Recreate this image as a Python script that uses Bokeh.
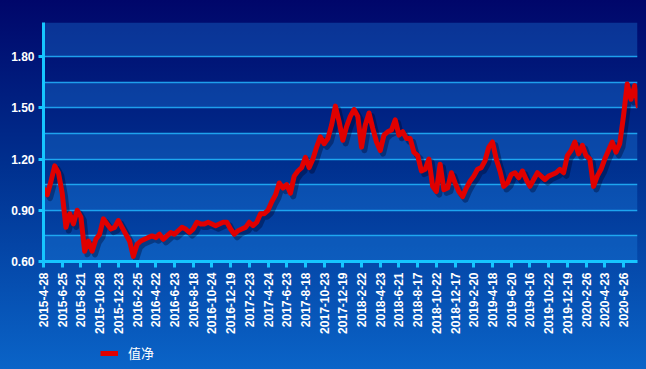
import numpy as np
from bokeh.plotting import figure
from bokeh.layouts import column
from bokeh.models import FixedTicker, Legend, LegendItem, Range1d, BoxAnnotation
from bokeh.embed import file_html
from bokeh.resources import INLINE

# tick labels of the category axis (one every 40 trading days)
tick_dates = ["2015-4-28", "2015-6-25", "2015-8-21", "2015-10-28", "2015-12-23",
              "2016-2-25", "2016-4-22", "2016-6-23", "2016-8-18", "2016-10-24", "2016-12-19",
              "2017-2-23", "2017-4-24", "2017-6-23", "2017-8-18", "2017-10-23", "2017-12-19",
              "2018-2-22", "2018-4-23", "2018-6-21", "2018-8-17", "2018-10-22", "2018-12-17",
              "2019-2-20", "2019-4-18", "2019-6-20", "2019-8-16", "2019-10-22", "2019-12-19",
              "2020-2-26", "2020-4-23", "2020-6-26"]

# net value, every 8 trading days
nav = [1.03, 0.99, 1.07, 1.16, 1.12, 1.00, 0.80, 0.88, 0.82, 0.90,
       0.86, 0.66, 0.72, 0.66, 0.73, 0.76, 0.85, 0.82, 0.79, 0.80,
       0.84, 0.80, 0.76, 0.72, 0.63, 0.70, 0.72, 0.73, 0.74, 0.75,
       0.74, 0.76, 0.73, 0.75, 0.77, 0.76, 0.78, 0.80, 0.79, 0.77,
       0.79, 0.83, 0.82, 0.82, 0.83, 0.82, 0.81, 0.82, 0.83, 0.83,
       0.79, 0.76, 0.78, 0.79, 0.80, 0.83, 0.81, 0.83, 0.88, 0.88,
       0.90, 0.95, 0.99, 1.06, 1.03, 1.05, 1.00, 1.10, 1.13, 1.15,
       1.21, 1.15, 1.20, 1.27, 1.33, 1.29, 1.32, 1.40, 1.51, 1.42,
       1.31, 1.39, 1.45, 1.49, 1.45, 1.27, 1.40, 1.47, 1.38, 1.30,
       1.25, 1.34, 1.36, 1.37, 1.43, 1.34, 1.36, 1.32, 1.32, 1.24,
       1.22, 1.13, 1.14, 1.20, 1.04, 1.01, 1.17, 1.02, 1.03, 1.12,
       1.06, 1.01, 0.98, 1.03, 1.07, 1.10, 1.14, 1.15, 1.19, 1.27,
       1.30, 1.20, 1.13, 1.04, 1.06, 1.11, 1.12, 1.09, 1.13, 1.08,
       1.04, 1.08, 1.12, 1.10, 1.08, 1.10, 1.11, 1.12, 1.14, 1.12,
       1.22, 1.25, 1.30, 1.23, 1.28, 1.22, 1.20, 1.04, 1.10, 1.14,
       1.20, 1.25, 1.30, 1.24, 1.29, 1.45, 1.64, 1.55, 1.63, 1.50]

y_ticks = [0.60, 0.90, 1.20, 1.50, 1.80]
grid_levels = [0.75, 0.90, 1.05, 1.20, 1.35, 1.50, 1.65, 1.80, 2.00]
light_bands = [(0.60, 0.75), (0.90, 1.05), (1.20, 1.35), (1.50, 1.65), (1.80, 2.00)]
legend_label = "值净"

step = 8
tick_every = 40
x = np.arange(len(nav)) * step
y = np.array(nav)

RED = "#e00000"
cyan = "#16c6ff"

p = figure(width=646, height=338, output_backend="svg", toolbar_location=None,
           x_range=Range1d(0, 1270), y_range=Range1d(0.60, 2.00),
           min_border_left=43, min_border_right=9, min_border_top=22, min_border_bottom=77)
p.border_fill_alpha = 0
p.background_fill_alpha = 0
p.outline_line_alpha = 0

for b0, b1 in light_bands:
    p.add_layout(BoxAnnotation(bottom=b0, top=b1, fill_color="#1f86e6", fill_alpha=0.33,
                               line_alpha=0, level="underlay"))

# shadow + line
p.line(x + 6, y - 0.018, line_color="#000020", line_alpha=0.35, line_width=6, line_join="round")
p.line(x, y, line_color=RED, line_width=5, line_join="round")

p.xgrid.visible = False
p.ygrid.ticker = FixedTicker(ticks=grid_levels)
p.ygrid.grid_line_color = "#1fa8f0"
p.ygrid.grid_line_width = 1.6

ya = p.yaxis[0]
ya.ticker = FixedTicker(ticks=y_ticks)
ya.major_label_overrides = {t: f"{t:.2f}" for t in y_ticks}
ya.axis_line_color = cyan
ya.axis_line_width = 3
ya.major_tick_line_color = cyan
ya.major_tick_line_width = 3
ya.major_tick_in = 0
ya.major_tick_out = 5
ya.minor_tick_line_alpha = 0
ya.major_label_text_color = "white"
ya.major_label_text_font = "Liberation Sans"
ya.major_label_text_font_style = "bold"
ya.major_label_text_font_size = "12px"
ya.major_label_standoff = 4

xa = p.xaxis[0]
ticks = [i * tick_every for i in range(len(tick_dates))]
xa.ticker = FixedTicker(ticks=ticks)
xa.major_label_overrides = {t: d for t, d in zip(ticks, tick_dates)}
xa.major_label_orientation = np.pi / 2
xa.axis_line_color = cyan
xa.axis_line_width = 3
xa.major_tick_line_color = cyan
xa.major_tick_line_width = 3
xa.major_tick_in = 0
xa.major_tick_out = 6
xa.minor_tick_line_alpha = 0
xa.major_label_text_color = "white"
xa.major_label_text_font = "Liberation Sans"
xa.major_label_text_font_style = "bold"
xa.major_label_text_font_size = "12px"
xa.major_label_standoff = 5

# legend strip below the chart (its series renderer lies outside this strip's view)
p2 = figure(width=646, height=31, output_backend="svg", toolbar_location=None,
            x_range=Range1d(-2, -1), y_range=Range1d(0, 1),
            min_border_left=0, min_border_right=0, min_border_top=0, min_border_bottom=0)
p2.border_fill_alpha = 0
p2.background_fill_alpha = 0
p2.outline_line_alpha = 0
p2.axis.visible = False
p2.grid.visible = False
lr = p2.line(x, y, line_color=RED, line_width=5)
legend = Legend(items=[LegendItem(label=legend_label, renderers=[lr])],
                location=(53, 3), orientation="horizontal",
                background_fill_alpha=0, border_line_alpha=0,
                label_text_color="white", label_text_font="Noto Sans CJK SC",
                label_text_font_size="13px", glyph_width=18, glyph_height=12,
                label_standoff=10, padding=4, margin=0)
p2.add_layout(legend, "center")

layout = column(p, p2, spacing=0,
                styles={"background": "linear-gradient(180deg, #00066a 0%, #00308f 45%, #0a64c8 100%)"})

open("out.html", "w").write(file_html(layout, INLINE))
